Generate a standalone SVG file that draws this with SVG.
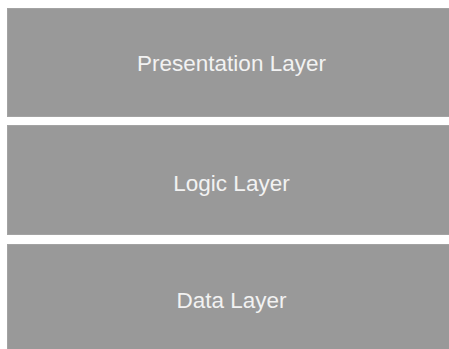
<svg xmlns="http://www.w3.org/2000/svg" width="449" height="349" viewBox="0 0 449 349">
<style>
.layer{fill:#999999;stroke:#a3a3a3;stroke-width:1}
.lbl{font-family:"Liberation Sans",Arial,sans-serif;font-size:22.5px;fill:#f2f2f2;text-anchor:middle}
</style>
<rect width="449" height="349" fill="#ffffff"/>
<g id="presentation">
<rect class="layer" x="7.5" y="8.5" width="442" height="108"/>
<text class="lbl" x="231.5" y="71">Presentation Layer</text>
</g>
<g id="logic">
<rect class="layer" x="7.5" y="125.5" width="442" height="109"/>
<text class="lbl" x="231.5" y="191">Logic Layer</text>
</g>
<g id="data">
<rect class="layer" x="7.5" y="244.5" width="442" height="106"/>
<text class="lbl" x="231.5" y="308">Data Layer</text>
</g>
<g id="connectors"/>
</svg>
